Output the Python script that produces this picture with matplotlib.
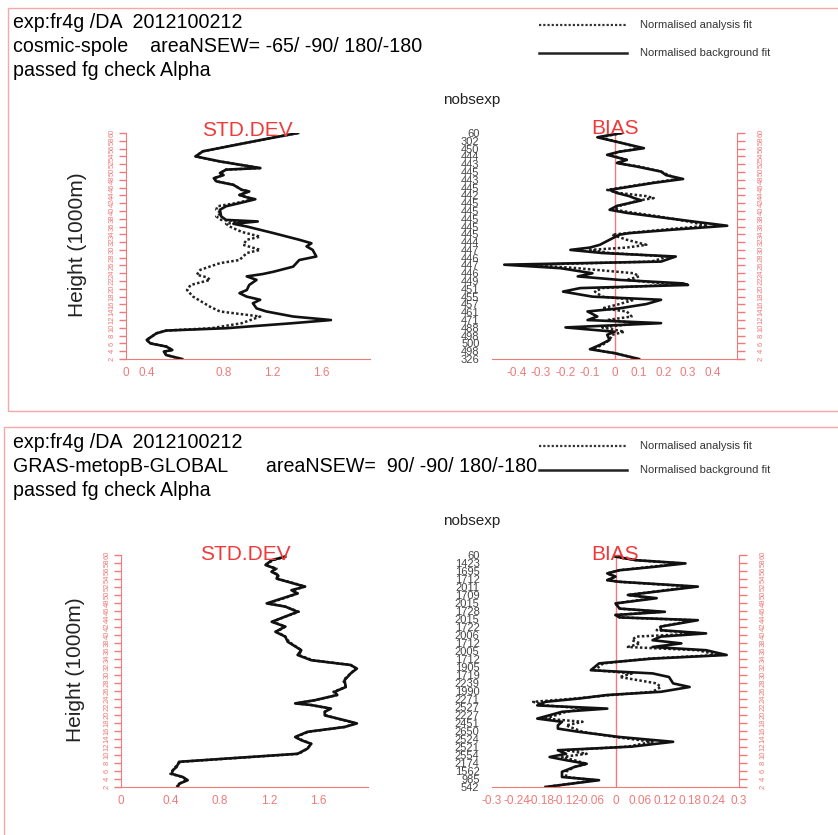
import matplotlib
matplotlib.use("Agg")
import matplotlib.pyplot as plt
from matplotlib.patches import Rectangle
from matplotlib.lines import Line2D

plt.rcParams['font.family'] = ['Liberation Sans', 'DejaVu Sans']

# ---------------- data ----------------
height_ticks = list(range(2, 61, 2))
height_labels = [str(h) for h in height_ticks]

# top panel: cosmic-spole
top_std_bg_h = [60.0, 58.3, 55.3, 54.0, 52.7, 51.0, 50.6, 49.7, 49.2, 48.4, 47.6, 46.7, 45.4, 45.0,
                44.1, 43.5, 43.0, 42.0, 41.2, 40.3, 38.6, 37.7, 37.3, 36.7, 36.0, 34.3, 32.6, 31.7,
                30.9, 30.0, 28.3, 27.4, 25.7, 24.4, 23.8, 23.2, 22.3, 21.0, 19.7, 18.9, 18.0, 17.2,
                16.3, 15.0, 14.2, 12.9, 12.0, 11.2, 9.9, 9.3, 8.6, 6.9, 6.0, 5.2, 4.3, 3.9, 3.0, 2.0]
top_std_bg = [1.41, 1.12, 0.63, 0.57, 0.77, 1.10, 0.82, 0.77, 0.80, 0.72, 0.74, 0.88, 0.95, 1.01,
              0.93, 0.99, 1.06, 0.93, 0.82, 0.77, 0.78, 0.82, 1.08, 0.88, 0.99, 1.21, 1.42, 1.52,
              1.48, 1.53, 1.56, 1.42, 1.37, 1.21, 1.12, 0.99, 1.07, 1.01, 0.99, 0.93, 0.99, 1.10,
              1.04, 1.07, 1.15, 1.37, 1.68, 1.37, 0.82, 0.33, 0.25, 0.17, 0.20, 0.33, 0.38, 0.31, 0.33, 0.46]

top_std_an_h = [60.0, 58.3, 55.3, 54.0, 52.7, 51.0, 50.6, 49.7, 49.2, 48.4, 47.6, 46.7, 45.4, 45.0,
                44.1, 43.5, 43.0, 42.0, 41.2, 40.3, 39.4, 38.6, 37.7, 37.3, 36.7, 36.0, 34.6, 33.4,
                32.6, 31.3, 30.0, 29.2, 27.4, 26.6, 24.9, 23.6, 23.0, 22.3, 21.0, 19.7, 18.0, 15.4,
                14.2, 12.9, 11.2, 9.9, 9.3, 8.6, 6.9, 6.0, 5.2, 4.3, 3.9, 3.0, 2.0]
top_std_an = [1.41, 1.12, 0.63, 0.57, 0.77, 1.10, 0.82, 0.77, 0.80, 0.72, 0.74, 0.88, 0.95, 1.01,
              0.93, 0.99, 1.04, 0.90, 0.75, 0.74, 0.78, 0.74, 0.78, 0.95, 0.82, 0.85, 0.95, 1.10,
              0.99, 0.96, 1.10, 0.99, 0.93, 0.77, 0.61, 0.58, 0.66, 0.69, 0.53, 0.50, 0.55, 0.69,
              0.77, 1.10, 0.95, 0.70, 0.33, 0.25, 0.17, 0.20, 0.33, 0.38, 0.31, 0.33, 0.46]

top_bias_h = [60.0, 58.9, 56.1, 55.2, 54.4, 53.1, 52.3, 51.4, 50.1, 49.2, 48.2, 47.2, 45.4, 44.6,
              43.8, 43.3, 42.7, 41.3, 40.3, 39.5, 38.6, 37.3, 36.2, 35.2, 34.3, 33.9, 32.6, 31.3,
              30.6, 30.0, 29.2, 28.3, 27.0, 26.2, 25.3, 24.0, 23.2, 22.3, 21.4, 21.0, 20.2, 19.3,
              18.0, 17.2, 16.1, 15.0, 14.2, 12.9, 12.0, 11.2, 10.1, 9.0, 8.2, 6.9, 5.6, 4.5, 3.5, 2.0]
top_bias_bg = [0.03, -0.07, 0.12, 0.02, -0.03, 0.05, 0.01, 0.09, 0.19, 0.21, 0.28, 0.16, -0.02, 0.01,
               0.06, 0.08, 0.11, 0.01, -0.02, 0.05, 0.16, 0.32, 0.46, 0.24, 0.06, 0.02, -0.02, -0.06,
               -0.10, -0.18, -0.05, 0.25, 0.19, -0.45, -0.22, -0.09, -0.15, 0.02, 0.28, 0.30, -0.14, -0.21,
               -0.09, 0.19, 0.13, 0.02, -0.11, -0.07, -0.11, 0.19, -0.20, 0.00, -0.03, -0.02, -0.06, -0.10, 0.00, 0.10]
top_bias_an = [0.03, -0.06, 0.11, 0.02, -0.02, 0.05, 0.01, 0.10, 0.19, 0.22, 0.26, 0.15, -0.03, 0.02,
               0.13, 0.16, 0.10, 0.02, 0.00, 0.08, 0.18, 0.30, 0.38, 0.20, 0.05, -0.01, 0.05, 0.13,
               0.05, -0.10, -0.02, 0.22, 0.15, -0.35, -0.15, 0.08, 0.10, 0.05, 0.20, 0.22, -0.05, -0.08,
               -0.05, 0.08, 0.02, -0.05, 0.05, 0.07, -0.03, 0.10, -0.05, 0.04, -0.01, -0.02, -0.05, -0.09, 0.00, 0.10]

top_nobs = ['326', '498', '500', '498', '488', '471', '461', '457', '455', '451', '449', '446', '447',
            '446', '447', '444', '445', '445', '445', '445', '445', '442', '445', '443', '445', '443',
            '444', '450', '302', '60']

# bottom panel: GRAS-metopB-GLOBAL
bot_std_h = [59.6, 58.7, 57.5, 56.6, 55.8, 55.0, 54.1, 53.3, 52.1, 51.2, 50.4, 49.6, 47.9, 47.1,
             45.8, 44.6, 43.3, 42.1, 40.8, 39.6, 38.3, 36.2, 35.0, 33.7, 32.5, 31.6, 30.4, 28.7,
             27.0, 25.8, 25.0, 23.7, 22.9, 22.5, 21.6, 20.8, 19.9, 18.7, 17.9, 17.0, 15.8, 14.5,
             13.7, 12.8, 11.6, 10.3, 9.1, 8.3, 7.0, 6.2, 5.3, 4.5, 3.7, 2.8, 2.0]
bot_std_bg = [1.33, 1.22, 1.17, 1.25, 1.22, 1.27, 1.26, 1.35, 1.49, 1.38, 1.43, 1.35, 1.18, 1.33,
              1.43, 1.33, 1.22, 1.33, 1.25, 1.33, 1.35, 1.46, 1.43, 1.54, 1.86, 1.91, 1.86, 1.81,
              1.82, 1.73, 1.75, 1.57, 1.41, 1.54, 1.70, 1.65, 1.65, 1.81, 1.91, 1.81, 1.51, 1.41,
              1.46, 1.54, 1.51, 1.43, 0.85, 0.47, 0.45, 0.42, 0.41, 0.50, 0.54, 0.47, 0.46]
bot_std_an = [1.33, 1.23, 1.17, 1.26, 1.22, 1.28, 1.26, 1.36, 1.49, 1.39, 1.43, 1.36, 1.19, 1.33,
              1.44, 1.33, 1.23, 1.33, 1.26, 1.33, 1.36, 1.46, 1.44, 1.55, 1.86, 1.90, 1.86, 1.80,
              1.82, 1.72, 1.75, 1.57, 1.42, 1.54, 1.69, 1.65, 1.66, 1.80, 1.90, 1.81, 1.52, 1.41,
              1.47, 1.54, 1.51, 1.44, 0.86, 0.48, 0.44, 0.42, 0.40, 0.50, 0.53, 0.47, 0.45]

bot_bias_h = [59.6, 58.7, 57.9, 57.0, 56.2, 55.4, 54.6, 53.7, 53.3, 52.1, 50.0, 49.2, 47.9, 46.6,
              45.8, 45.0, 44.4, 43.7, 42.1, 41.2, 40.4, 39.6, 38.7, 37.9, 37.0, 36.2, 35.0, 34.1,
              32.9, 31.2, 30.4, 29.5, 27.9, 27.0, 25.8, 25.0, 24.1, 23.3, 22.4, 21.6, 20.8, 19.1,
              18.3, 17.4, 16.6, 15.8, 14.5, 13.3, 12.1, 11.2, 10.3, 9.5, 8.7, 7.8, 7.0, 5.8,
              4.5, 3.7, 2.8, 2.0]
bot_bias_bg = [0.00, 0.05, 0.17, 0.09, 0.01, -0.02, 0.00, -0.02, 0.01, 0.20,
               0.03, 0.10, 0.00, 0.01, 0.12, 0.00, 0.01, 0.20, 0.11, 0.11,
               0.22, 0.11, 0.09, 0.16, 0.09, 0.22, 0.27, 0.09, -0.04, -0.06,
               0.09, 0.13, 0.14, 0.18, 0.11, -0.02, -0.09, -0.17, -0.19, -0.02,
               -0.13, -0.19, -0.13, -0.14, -0.14, -0.09, 0.01, 0.14, 0.04, -0.14,
               -0.12, -0.16, -0.12, -0.07, -0.10, -0.13, -0.13, -0.04, -0.11, -0.17]
bot_bias_an = [0.00, 0.05, 0.16, 0.08, 0.01, -0.02, 0.00, -0.02, 0.01, 0.19,
               0.03, 0.09, 0.00, 0.01, 0.11, 0.00, 0.01, 0.19, 0.11, 0.10,
               0.21, 0.05, 0.04, 0.06, 0.03, 0.20, 0.25, 0.08, -0.03, -0.05,
               0.04, 0.01, 0.10, 0.11, 0.09, -0.01, -0.10, -0.20, -0.17, -0.07,
               -0.12, -0.17, -0.08, -0.12, -0.10, -0.08, 0.00, 0.09, 0.03, -0.12,
               -0.07, -0.13, -0.10, -0.07, -0.10, -0.12, -0.12, -0.05, -0.11, -0.17]

bot_nobs = ['542', '985', '1562', '2174', '2554', '2521', '2524', '2650', '2451', '2227', '2527',
            '2271', '1990', '2239', '1719', '1905', '1712', '2005', '1712', '2006', '1722', '2015',
            '1728', '2015', '1709', '2011', '1712', '1695', '1423', '60']

std_ticks_top = [0, 0.17, 0.8, 1.2, 1.6]
std_ticks = [0, 0.4, 0.8, 1.2, 1.6]
std_labels = ['0', '0.4', '0.8', '1.2', '1.6']
bias_ticks_top = [-0.4, -0.3, -0.2, -0.1, 0, 0.1, 0.2, 0.3, 0.4]
bias_labels_top = ['-0.4', '-0.3', '-0.2', '-0.1', '0', '0.1', '0.2', '0.3', '0.4']
bias_ticks_bot = [-0.3, -0.24, -0.18, -0.12, -0.06, 0, 0.06, 0.12, 0.18, 0.24, 0.3]
bias_labels_bot = ['-0.3', '-0.24', '-0.18', '-0.12', '-0.06', '0', '0.06', '0.12', '0.18', '0.24', '0.3']

# ---------------- layout ----------------
W, H = 838, 835
PINK = '#f07a7a'
RED = '#f03a3a'
BORDER = '#f5a8a8'
DOTS = (0, (1, 0.9))


def fx(px):
    return px / W


def fy(py):
    return 1 - py / H


def box(l, t, r, b):
    return [fx(l), fy(b), (r - l) / W, (b - t) / H]


fig = plt.figure(figsize=(8.38, 8.35), dpi=100)

for (l, t, r, b) in [(8, 8, 850, 411), (4, 427, 850, 850)]:
    fig.add_artist(Rectangle((fx(l), fy(b)), (r - l) / W, (b - t) / H, transform=fig.transFigure,
                             fill=False, ec=BORDER, lw=1.0))


def header(y0, line2, leg_y1, leg_y2, nobs_y):
    fig.text(fx(13), fy(y0), 'exp:fr4g /DA  2012100212', fontsize=14.1, va='center')
    fig.text(fx(13), fy(y0 + 24), line2, fontsize=14.1, va='center')
    fig.text(fx(13), fy(y0 + 48), 'passed fg check Alpha', fontsize=14.1, va='center')
    fig.add_artist(Line2D([fx(539), fx(627)], [fy(leg_y1)] * 2, transform=fig.transFigure,
                          color='#333333', lw=1.6, linestyle=DOTS))
    fig.add_artist(Line2D([fx(539), fx(627)], [fy(leg_y2)] * 2, transform=fig.transFigure,
                          color='#222222', lw=1.8))
    fig.text(fx(640), fy(leg_y1), 'Normalised analysis fit', fontsize=8, va='center', color='#333333')
    fig.text(fx(640), fy(leg_y2), 'Normalised background fit', fontsize=8, va='center', color='#333333')
    fig.text(fx(443), fy(nobs_y), 'nobsexp', fontsize=11, va='center', color='#222222')


header(22, 'cosmic-spole    areaNSEW= -65/ -90/ 180/-180', 25, 53, 100)
header(443, 'GRAS-metopB-GLOBAL       areaNSEW=  90/ -90/ 180/-180', 446, 470, 521)


def std_panel(rect, h, bg, h_an, an, xt, title_xy, ylab_xy):
    ax = fig.add_axes(rect)
    ax.plot(an, h_an, color='#222222', lw=1.8, linestyle=DOTS)
    ax.plot(bg, h, color='#111111', lw=1.9)
    ax.set_xlim(0, 2.0)
    ax.set_ylim(2, 60)
    for s in ['top', 'right']:
        ax.spines[s].set_visible(False)
    for s in ['left', 'bottom']:
        ax.spines[s].set_color(PINK)
    ax.set_xticks(xt, std_labels)
    ax.set_yticks(height_ticks, height_labels, rotation=90, va='center')
    ax.tick_params(axis='x', length=0, pad=6, labelsize=8.5, labelcolor=PINK)
    ax.tick_params(axis='y', length=5, width=1, color=PINK, pad=2.5, labelsize=5.5, labelcolor=PINK)
    fig.text(fx(title_xy[0]), fy(title_xy[1]), 'STD.DEV', color=RED, fontsize=15, ha='center', va='center')
    fig.text(fx(ylab_xy[0]), fy(ylab_xy[1]), 'Height (1000m)', rotation=90, fontsize=15,
             ha='center', va='center', color='#222222')


def bias_panel(rect, h, bg, an, xlim, xt, xl, nobs, title_xy):
    ax = fig.add_axes(rect)
    ax.axvline(0, color=PINK, lw=1)
    ax.plot(an, h, color='#222222', lw=1.8, linestyle=DOTS)
    ax.plot(bg, h, color='#111111', lw=1.9)
    ax.set_xlim(*xlim)
    ax.set_ylim(2, 60)
    for s in ['top', 'left']:
        ax.spines[s].set_visible(False)
    for s in ['right', 'bottom']:
        ax.spines[s].set_color(PINK)
    ax.set_xticks(xt, xl)
    ax.tick_params(axis='x', length=0, pad=6, labelsize=8.5, labelcolor=PINK)
    ax.yaxis.tick_right()
    ax.set_yticks(height_ticks, height_labels, rotation=90, va='center')
    ax.tick_params(axis='y', length=6, width=1, color=PINK, pad=9, labelsize=5.5, labelcolor=PINK)
    sec = ax.secondary_yaxis('left')
    sec.set_yticks(height_ticks, nobs)
    sec.spines['left'].set_visible(False)
    sec.tick_params(length=0, pad=9, labelsize=8, labelcolor='#444444')
    fig.text(fx(title_xy[0]), fy(title_xy[1]), 'BIAS', color=RED, fontsize=15, ha='center', va='center')


std_panel(box(126, 133, 370, 359), top_std_bg_h, top_std_bg, top_std_an_h, top_std_an,
          std_ticks_top, (247, 130), (77, 245))
bias_panel(box(492, 133, 737, 359), top_bias_h, top_bias_bg, top_bias_an, (-0.5, 0.5),
           bias_ticks_top, bias_labels_top, top_nobs, (615, 129))

std_panel(box(121, 555, 368, 787), bot_std_h, bot_std_bg, bot_std_h, bot_std_an,
          std_ticks, (245, 554), (75, 670))
bias_panel(box(492, 555, 739, 787), bot_bias_h, bot_bias_bg, bot_bias_an, (-0.3, 0.3),
           bias_ticks_bot, bias_labels_bot, bot_nobs, (615, 554))

fig.savefig('out.png', dpi=100)
